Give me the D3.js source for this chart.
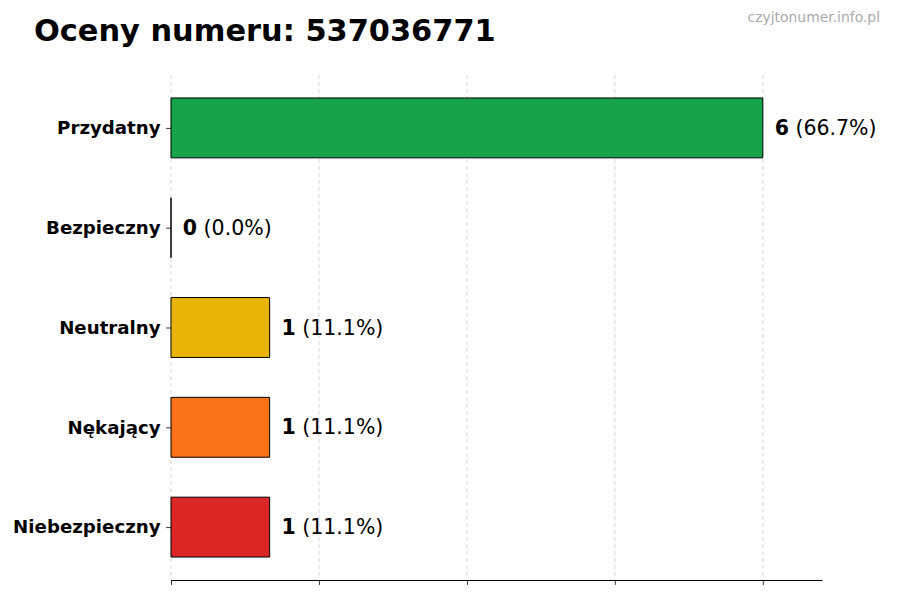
<!DOCTYPE html>
<html><head><meta charset="utf-8">
<script src="https://cdn.jsdelivr.net/npm/d3@7/dist/d3.min.js"></script>
<style>body{margin:0;background:#fff}svg{display:block}</style>
</head><body>
<svg id="c" width="900" height="600"></svg>
<script>
const categories = ["Przydatny","Bezpieczny","Neutralny","Nękający","Niebezpieczny"];
const counts = [6,0,1,1,1];
const colors = ["#16a34a","#16a34a","#eab308","#f97316","#dc2626"];
const xTicks = [0,1.5,3,4.5,6];
const title = "Oceny numeru: 537036771";
const watermark = "czyjtonumer.info.pl";

(function(){
const total = d3.sum(counts);
const svg = d3.select("#c");
const font = "DejaVu Sans, sans-serif";
const pLeft = 171, pRight = 822, pTop = 75, pBottom = 580;
const maxV = d3.max(counts);
const x = d3.scaleLinear().domain([0, maxV*1.1]).range([pLeft, pRight]);
const n = categories.length;
const y = d3.scaleLinear().domain([-0.53, n-1+0.53]).range([pBottom, pTop]);
const idx = i => n-1-i;

svg.append("g").selectAll("line").data(xTicks).join("line")
  .attr("x1", d=>x(d)).attr("x2", d=>x(d)).attr("y1", pTop).attr("y2", pBottom)
  .attr("stroke","#cccccc").attr("stroke-width",0.8).attr("stroke-dasharray","4,3");

svg.append("g").selectAll("path").data(counts).join("path")
  .attr("d",(d,i)=>{
    const x0 = x(0), x1 = x(d), y0 = y(idx(i)+0.3), y1 = y(idx(i)-0.3);
    const p = d3.path(); p.moveTo(x0,y0); p.lineTo(x1,y0); p.lineTo(x1,y1); p.lineTo(x0,y1); p.closePath();
    return p.toString();
  })
  .attr("fill",(d,i)=>colors[i]).attr("stroke","#000").attr("stroke-width",1);

const lab = svg.append("g").selectAll("text").data(counts).join("text")
  .attr("x", d=>x(d + maxV*0.02)).attr("y",(d,i)=>y(idx(i)))
  .attr("dy","0.35em").attr("font-family",font).attr("font-size",20.5).attr("fill","#000");
lab.append("tspan").attr("font-weight","bold").text(d=>d);
lab.append("tspan").text(d=>" (" + (total? (d/total*100):0).toFixed(1) + "%)");

const yAxis = d3.axisLeft(y).tickValues(d3.range(n)).tickFormat(v=>categories[n-1-v]).tickSize(4.9).tickPadding(5.5);
const gy = svg.append("g").attr("transform",`translate(${pLeft},0)`).call(yAxis);
gy.select(".domain").remove();
gy.selectAll("text").attr("font-family",font).attr("font-size",18.2).attr("font-weight","bold").attr("fill","#000");
gy.selectAll("line").attr("stroke","#000").attr("stroke-width",0.8);

const xAxis = d3.axisBottom(x).tickValues(xTicks).tickFormat("").tickSize(4.9).tickSizeOuter(0);
const gx = svg.append("g").attr("transform",`translate(0,${pBottom})`).call(xAxis);
gx.select(".domain").attr("stroke","#000").attr("stroke-width",1.1);
gx.selectAll("line").attr("stroke","#000").attr("stroke-width",0.8);

svg.append("text").attr("x",34).attr("y",41).attr("font-family",font).attr("font-weight","bold")
  .attr("font-size",30.4).attr("fill","#000").text(title);
svg.append("text").attr("x",880).attr("y",22).attr("text-anchor","end").attr("font-family",font)
  .attr("font-size",13.9).attr("fill","#aaaaaa").text(watermark);
})();
</script>
</body></html>
